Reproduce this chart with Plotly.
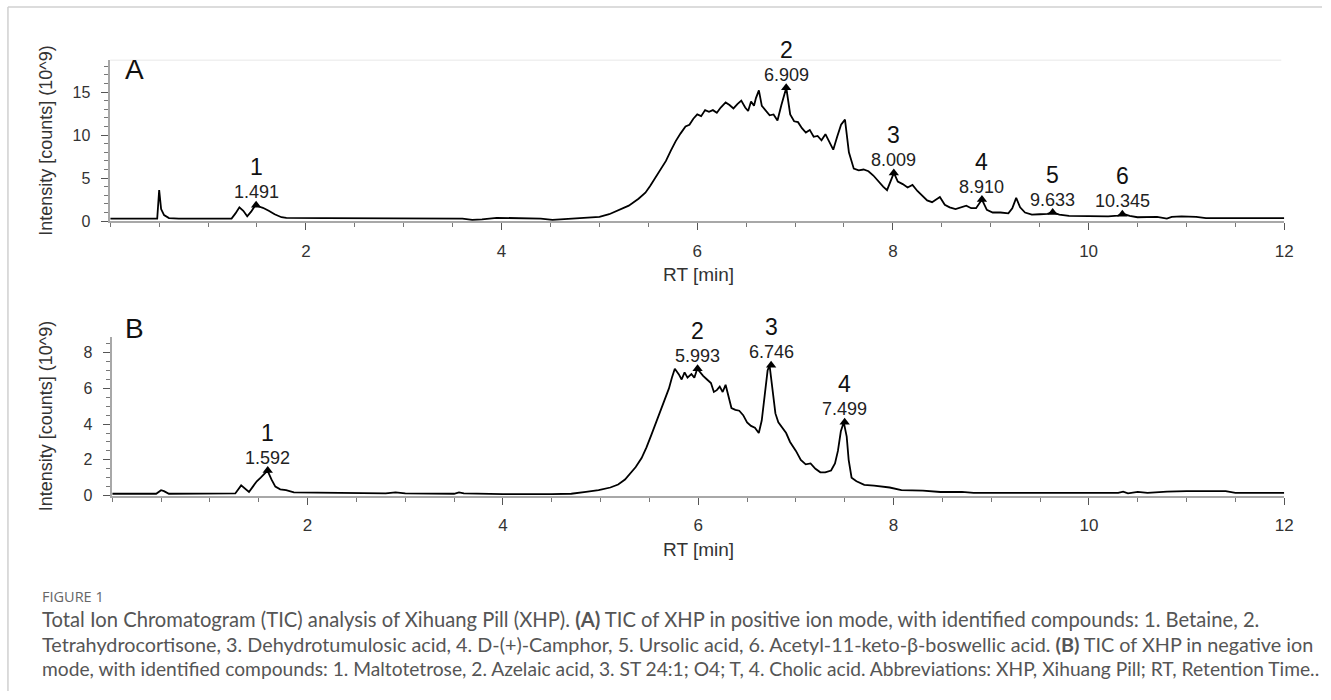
import plotly.graph_objects as go

# ---------------- data ----------------
rt_a = [0.0, 0.48, 0.50, 0.52, 0.55, 0.60, 0.70, 1.0, 1.24, 1.28, 1.32, 1.36, 1.40, 1.44, 1.48, 1.52,
        1.56, 1.62, 1.68, 1.75, 1.80, 2.2, 2.6, 3.0, 3.4, 3.6, 3.7, 3.8, 3.95, 4.2, 4.4, 4.52, 4.7,
        4.86, 5.0, 5.1, 5.2, 5.3, 5.4, 5.47, 5.52, 5.57, 5.62, 5.68, 5.73, 5.78, 5.83, 5.88, 5.92,
        5.96, 6.0, 6.04, 6.08, 6.12, 6.16, 6.2, 6.24, 6.29, 6.33, 6.37, 6.41, 6.45, 6.49, 6.52, 6.55,
        6.58, 6.6, 6.63, 6.66, 6.7, 6.74, 6.78, 6.82, 6.86, 6.91, 6.95, 6.99, 7.03, 7.07, 7.11, 7.15,
        7.19, 7.23, 7.27, 7.31, 7.35, 7.39, 7.43, 7.47, 7.51, 7.55, 7.6, 7.65, 7.7, 7.75, 7.8, 7.85,
        7.9, 7.94, 8.01, 8.05, 8.1, 8.15, 8.2, 8.25, 8.3, 8.35, 8.4, 8.45, 8.48, 8.53, 8.58, 8.64,
        8.7, 8.75, 8.8, 8.85, 8.91, 8.96, 9.02, 9.1, 9.18, 9.22, 9.26, 9.3, 9.35, 9.42, 9.5, 9.58,
        9.63, 9.7, 9.8, 10.0, 10.2, 10.3, 10.35, 10.42, 10.5, 10.7, 10.8, 10.85, 10.95, 11.1, 11.2,
        11.5, 12.0]
int_a = [0.28, 0.28, 3.6, 1.4, 0.7, 0.35, 0.3, 0.3, 0.3, 0.9, 1.6, 1.2, 0.55, 1.1, 1.8, 1.7,
         1.55, 1.2, 0.8, 0.45, 0.38, 0.35, 0.35, 0.33, 0.35, 0.3, 0.15, 0.2, 0.38, 0.35, 0.3, 0.15, 0.3,
         0.38, 0.5, 0.8, 1.3, 1.8, 2.6, 3.3, 4.1, 5.0, 5.9, 7.0, 8.2, 9.3, 10.2, 11.0, 11.2,
         11.9, 12.4, 12.2, 12.9, 12.7, 12.9, 12.6, 13.2, 13.8, 13.5, 13.1, 13.6, 14.0, 13.2, 12.8, 13.9,
         13.4, 14.3, 15.2, 13.4, 12.9, 12.3, 12.4, 11.7, 13.5, 15.5, 12.4, 11.6, 11.5, 10.8, 10.3, 10.6,
         9.8, 9.9, 9.4, 10.1, 9.2, 8.3, 9.8, 11.2, 11.8, 8.0, 6.1, 5.9, 6.0, 5.8, 5.3, 4.6,
         4.0, 3.6, 5.6, 4.6, 4.3, 3.9, 4.2, 3.5, 2.9, 2.4, 2.2, 2.6, 2.8, 1.9, 1.6, 1.4,
         1.6, 1.8, 1.5, 1.5, 2.5, 1.3, 1.0, 1.0, 0.9, 1.5, 2.7, 1.6, 1.0, 0.75, 0.8, 0.85,
         1.05, 0.75, 0.6, 0.55, 0.55, 0.65, 0.85, 0.6, 0.45, 0.5, 0.3, 0.5, 0.55, 0.5, 0.35,
         0.35, 0.35]

rt_b = [0.0, 0.45, 0.5, 0.53, 0.58, 1.0, 1.26, 1.32, 1.36, 1.40, 1.44, 1.48, 1.52, 1.55, 1.59, 1.63,
        1.67, 1.72, 1.78, 1.86, 2.2, 2.6, 2.8, 2.9, 3.0, 3.5, 3.55, 3.6, 4.0, 4.5, 4.7, 4.85, 4.98,
        5.1, 5.18, 5.25, 5.3, 5.36, 5.42, 5.47, 5.52, 5.56, 5.6, 5.64, 5.67, 5.7, 5.73, 5.76, 5.8,
        5.83, 5.86, 5.89, 5.93, 5.96, 5.99, 6.02, 6.05, 6.09, 6.13, 6.16, 6.19, 6.22, 6.25, 6.28, 6.31,
        6.34, 6.38, 6.42, 6.46, 6.5, 6.54, 6.58, 6.62, 6.65, 6.68, 6.71, 6.73, 6.76, 6.79, 6.82, 6.86,
        6.9, 6.94, 7.0, 7.05, 7.1, 7.15, 7.2, 7.25, 7.3, 7.36, 7.4, 7.43, 7.46, 7.49, 7.52, 7.54,
        7.57, 7.62, 7.7, 7.8, 7.96, 8.08, 8.3, 8.48, 8.7, 8.82, 9.0, 9.5, 10.0, 10.3, 10.35, 10.4,
        10.5, 10.6, 10.8, 11.0, 11.4, 11.5, 12.0]
int_b = [0.1, 0.1, 0.3, 0.25, 0.1, 0.1, 0.12, 0.57, 0.4, 0.2, 0.5, 0.8, 1.0, 1.2, 1.4, 0.9,
         0.5, 0.35, 0.3, 0.18, 0.15, 0.15, 0.12, 0.18, 0.12, 0.1, 0.18, 0.12, 0.08, 0.08, 0.1, 0.2, 0.3,
         0.45, 0.62, 0.9, 1.2, 1.6, 2.1, 2.7, 3.4, 4.0, 4.6, 5.1, 5.6, 6.0, 6.6, 7.1, 6.8,
         6.5, 6.9, 6.6, 6.8, 6.6, 7.1, 6.9, 6.7, 6.5, 6.3, 5.8, 5.9, 6.1, 5.8, 6.2, 5.6,
         4.9, 4.8, 4.75, 4.5, 4.1, 3.9, 3.8, 3.5, 4.2, 5.6, 7.0, 7.3, 6.0, 4.6, 4.1, 3.8,
         3.5, 3.0, 2.5, 2.0, 1.75, 1.8, 1.5, 1.3, 1.3, 1.4, 1.8, 2.5, 3.6, 4.1, 3.3, 2.0,
         1.0, 0.8, 0.6, 0.55, 0.45, 0.3, 0.28, 0.2, 0.2, 0.15, 0.15, 0.12, 0.12, 0.15, 0.22, 0.12,
         0.2, 0.15, 0.22, 0.25, 0.25, 0.15, 0.15]

peak_ids_a = ["1", "2", "3", "4", "5", "6"]
peak_rt_a = [1.491, 6.909, 8.009, 8.910, 9.633, 10.345]
peak_int_a = [1.85, 15.5, 5.6, 2.5, 1.0, 0.8]

peak_ids_b = ["1", "2", "3", "4"]
peak_rt_b = [1.592, 5.993, 6.746, 7.499]
peak_int_b = [1.4, 7.1, 7.3, 4.1]

x_ticks = [2, 4, 6, 8, 10, 12]
y_ticks_a = [0, 5, 10, 15]
y_ticks_b = [0, 2, 4, 6, 8]

caption_head = "FIGURE 1"
caption_lines = [
    "Total Ion Chromatogram (TIC) analysis of Xihuang Pill (XHP). <b>(A)</b> TIC of XHP in positive ion mode, with identified compounds: 1. Betaine, 2.",
    "Tetrahydrocortisone, 3. Dehydrotumulosic acid, 4. D-(+)-Camphor, 5. Ursolic acid, 6. Acetyl-11-keto-β-boswellic acid. <b>(B)</b> TIC of XHP in negative ion",
    "mode, with identified compounds: 1. Maltotetrose, 2. Azelaic acid, 3. ST 24:1; O4; T, 4. Cholic acid. Abbreviations: XHP, Xihuang Pill; RT, Retention Time..",
]

# ---------------- figure ----------------
W, H = 1331, 700
FONT = "Liberation Sans, Arial, sans-serif"
CAPFONT = "Lato"
CAP_SIZES = [20.2, 19.8, 19.2]
AXC = "#a8a8a8"
TXT = "#333333"

fig = go.Figure()
fig.add_trace(go.Scatter(x=rt_a, y=int_a, mode="lines", line=dict(color="black", width=1.8),
                         xaxis="x", yaxis="y", showlegend=False, hoverinfo="skip"))
fig.add_trace(go.Scatter(x=peak_rt_a, y=peak_int_a, mode="markers",
                         marker=dict(symbol="triangle-up", size=9, color="black"),
                         xaxis="x", yaxis="y", showlegend=False))
fig.add_trace(go.Scatter(x=rt_b, y=int_b, mode="lines", line=dict(color="black", width=1.8),
                         xaxis="x2", yaxis="y2", showlegend=False, hoverinfo="skip"))
fig.add_trace(go.Scatter(x=peak_rt_b, y=peak_int_b, mode="markers",
                         marker=dict(symbol="triangle-up", size=9, color="black"),
                         xaxis="x2", yaxis="y2", showlegend=False))


def xa(domain, anchor):
    return dict(domain=domain, anchor=anchor, range=[0, 12], tickvals=x_ticks,
                ticks="outside", ticklen=7, tickcolor="#555", tickwidth=1.2,
                minor=dict(dtick=0.5, tick0=0, ticks="outside", ticklen=4, tickcolor="#777"),
                showline=True, linecolor=AXC, linewidth=2, showgrid=False, zeroline=False,
                tickfont=dict(family=FONT, size=17, color=TXT), ticklabelstandoff=6)


def ya(domain, anchor, rng, tv, mdt):
    return dict(domain=domain, anchor=anchor, range=rng, tickvals=tv,
                ticks="outside", ticklen=7, tickcolor="#555", tickwidth=1.2,
                minor=dict(dtick=mdt, tick0=0, ticks="outside", ticklen=4, tickcolor="#777"),
                showline=True, linecolor=AXC, linewidth=1.5, showgrid=False, zeroline=False,
                tickfont=dict(family=FONT, size=16, color=TXT), ticklabelstandoff=8)


fig.update_layout(
    width=W, height=H, margin=dict(l=0, r=0, t=0, b=0),
    paper_bgcolor="white", plot_bgcolor="white",
    xaxis=xa([111 / W, 1293 / W], "y"),
    yaxis=ya([1 - 224 / H, 1 - 61 / H], "x", [0, 18.7], y_ticks_a, 1),
    xaxis2=xa([113 / W, 1293 / W], "y2"),
    yaxis2=ya([1 - 502 / H, 1 - 341 / H], "x2", [0, 8.9], y_ticks_b, 0.5),
)

ann = []
for xr, yr, ids, rts, vals in [("x", "y", peak_ids_a, peak_rt_a, peak_int_a),
                               ("x2", "y2", peak_ids_b, peak_rt_b, peak_int_b)]:
    for pid, rt, v in zip(ids, rts, vals):
        ann.append(dict(x=rt, y=v, xref=xr, yref=yr, text=f"{rt:.3f}", showarrow=False,
                        xanchor="center", yanchor="middle", yshift=13,
                        font=dict(family=FONT, size=18, color="#222")))
        ann.append(dict(x=rt, y=v, xref=xr, yref=yr, text=pid, showarrow=False,
                        xanchor="center", yanchor="middle", yshift=38,
                        font=dict(family=FONT, size=23, color="#111")))


def pann(x, y, text, size, color="#111", angle=0, xanchor="center", family=FONT):
    return dict(x=x / W, y=1 - y / H, xref="paper", yref="paper", text=text, showarrow=False,
                xanchor=xanchor, yanchor="middle", textangle=angle,
                font=dict(family=family, size=size, color=color))


ann.append(pann(135, 70, "A", 28))
ann.append(pann(135, 333, "B", 28))
for yc in [142, 421]:
    ann.append(pann(46, yc, "Intensity [counts] (10^9)", 18, TXT, angle=-90))
for yc in [278, 557]:
    ann.append(pann(703, yc, "RT [min]", 19, TXT))
ann.append(pann(40, 604, caption_head, 14.5, "#666", xanchor="left", family="Open Sans"))
for i, line in enumerate(caption_lines):
    ann.append(pann(40, 627 + 25 * i, line, CAP_SIZES[i], "#555", xanchor="left", family=CAPFONT))
fig.update_layout(annotations=ann)

shapes = [
    dict(type="line", xref="paper", yref="paper", x0=8 / W, x1=1, y0=1 - 7 / H, y1=1 - 7 / H,
         line=dict(color="#d0d0d0", width=1.5)),
    dict(type="line", xref="paper", yref="paper", x0=8 / W, x1=8 / W, y0=0, y1=1 - 7 / H,
         line=dict(color="#d0d0d0", width=1.5)),
    dict(type="line", xref="paper", yref="paper", x0=111 / W, x1=1290 / W, y0=1 - 61 / H,
         y1=1 - 61 / H, line=dict(color="#f0f0f0", width=1.5)),
]
fig.update_layout(shapes=shapes)

fig.write_html("out.html")
